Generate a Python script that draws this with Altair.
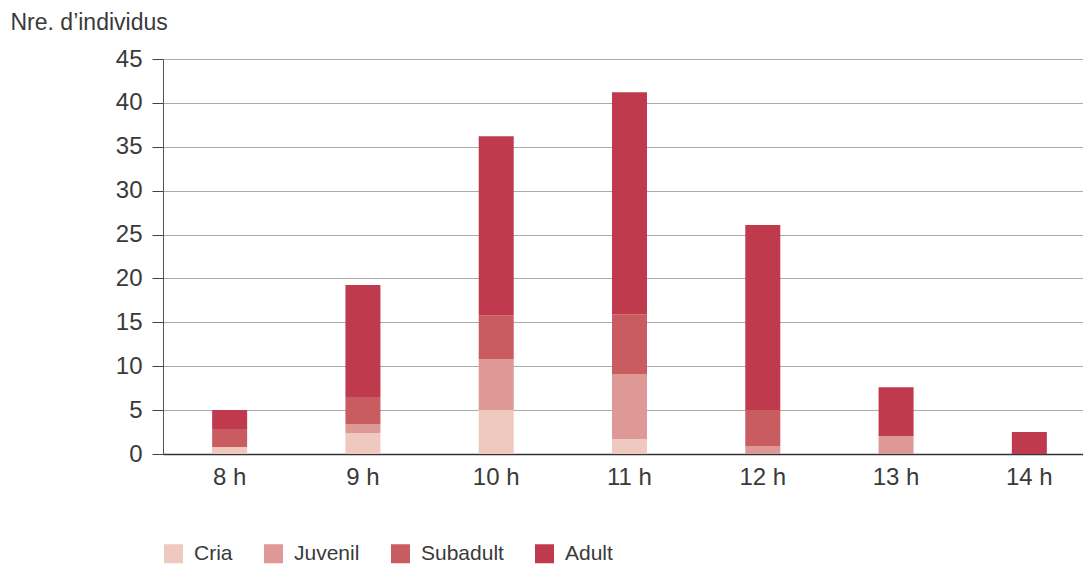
import altair as alt
import pandas as pd

hours = ["8 h", "9 h", "10 h", "11 h", "12 h", "13 h", "14 h"]
groups = ["Cria", "Juvenil", "Subadult", "Adult"]
colors = ["#EFC8C0", "#DE9896", "#C95C60", "#BE3A4C"]

cria = [0.8, 2.4, 5.0, 1.7, 0.0, 0.0, 0.0]
juvenil = [0.0, 1.0, 5.8, 7.4, 0.9, 2.05, 0.0]
subadult = [2.05, 3.1, 5.0, 6.8, 4.1, 0.0, 0.0]
adult = [2.15, 12.75, 20.4, 25.3, 21.1, 5.55, 2.5]

series = [cria, juvenil, subadult, adult]
rows = []
for gi, (g, vals) in enumerate(zip(groups, series)):
    for h, v in zip(hours, vals):
        rows.append({"hora": h, "grup": g, "ord": gi, "n": v})
df = pd.DataFrame(rows)

font = "Liberation Sans"
txt = "#3a3a3a"

chart = alt.Chart(df).mark_bar(size=35).encode(
    x=alt.X("hora:N", sort=hours, title=None,
            scale=alt.Scale(range=[0, 933], paddingInner=0, paddingOuter=0),
            axis=alt.Axis(labelAngle=0, ticks=False, labelFontSize=24, labelColor=txt,
                          labelFont=font, labelPadding=11, domainColor="#333",
                          domainWidth=1.5, grid=False)),
    y=alt.Y("n:Q", stack="zero",
            scale=alt.Scale(domain=[0, 45], nice=False),
            axis=alt.Axis(values=list(range(0, 50, 5)), title="Nre. d\u2019individus",
                          titleAngle=0, titleAlign="left", titleBaseline="alphabetic",
                          titleX=-153, titleY=-30, titleFontSize=23, titleFontWeight="normal",
                          titleColor=txt, titleFont=font,
                          labelFontSize=24, labelColor=txt, labelFont=font, labelPadding=10,
                          tickSize=11, tickColor="#444", domainColor="#555",
                          gridColor="#aaaaaa", gridWidth=1.2)),
    color=alt.Color("grup:N", sort=groups,
                    scale=alt.Scale(domain=groups, range=colors),
                    legend=alt.Legend(orient="none", legendX=0, legendY=484,
                                      direction="horizontal", title=None,
                                      symbolType="square", symbolSize=361,
                                      symbolStrokeWidth=0, labelFontSize=21,
                                      labelFont=font, labelColor=txt,
                                      labelOffset=10, columnPadding=30)),
    order=alt.Order("ord:Q", sort="ascending"),
).properties(
    width=920, height=395,
    autosize=alt.AutoSizeParams(type="none"),
    padding={"left": 155, "top": 51, "right": 0, "bottom": 110},
).configure_view(stroke=None)

chart.save("out.html", embed_options={"renderer": "svg", "actions": False})
